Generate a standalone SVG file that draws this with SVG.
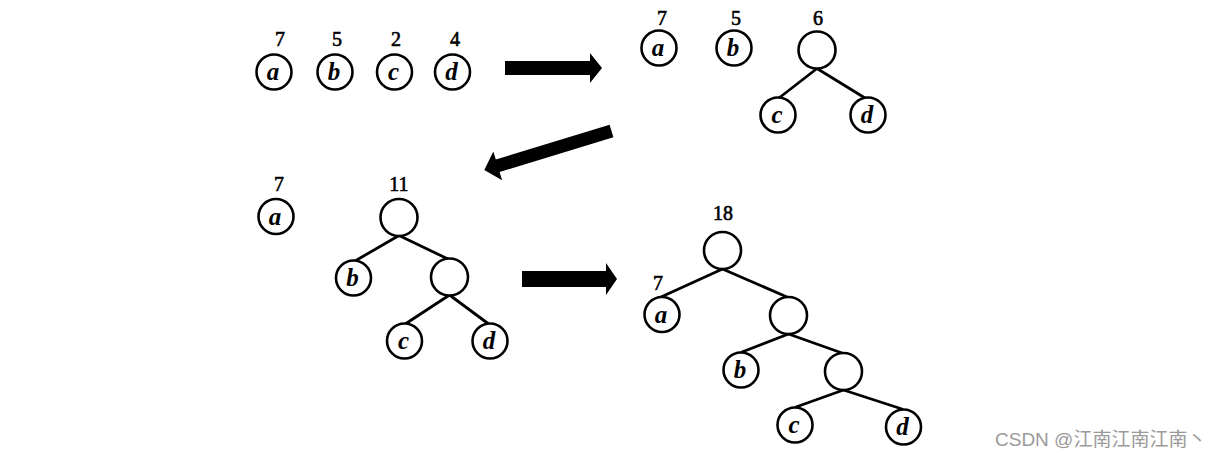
<svg xmlns="http://www.w3.org/2000/svg" width="1215" height="457" viewBox="0 0 1215 457">
<style>
.n{fill:#fff;stroke:#000;stroke-width:2.6}
.e{stroke:#000;stroke-width:2.8;fill:none;stroke-linecap:round}
.lt{font-family:"Liberation Serif",serif;font-style:italic;font-weight:bold;font-size:25px;text-anchor:middle;fill:#000}
.w{font-family:"Liberation Serif",serif;font-size:20px;text-anchor:middle;fill:#000;stroke:#000;stroke-width:0.6}
.ar{fill:#000}
.wm{font-family:"Liberation Sans","Noto Sans CJK SC",sans-serif;font-size:19px;fill:#9a9a9a}
</style>
<rect width="1215" height="457" fill="#fff"/>
<g id="connectors">
<line class="e" x1="817" y1="68.5" x2="779" y2="98"/>
<line class="e" x1="817" y1="68.5" x2="865" y2="98"/>
<line class="e" x1="399" y1="235.5" x2="355" y2="261"/>
<line class="e" x1="399" y1="235.5" x2="448" y2="259"/>
<line class="e" x1="449.5" y1="295" x2="406" y2="323.5"/>
<line class="e" x1="449.5" y1="295" x2="488" y2="323.5"/>
<line class="e" x1="722.5" y1="269" x2="661" y2="297"/>
<line class="e" x1="722.5" y1="269" x2="787" y2="297"/>
<line class="e" x1="788.5" y1="334" x2="742" y2="352"/>
<line class="e" x1="788.5" y1="334" x2="842" y2="353"/>
<line class="e" x1="843.5" y1="390" x2="796" y2="407"/>
<line class="e" x1="843.5" y1="390" x2="902" y2="409"/>
<polygon id="arrow1" class="ar" points="505,61 590,61 590,53 602,68 590,83 590,75 505,75"/>
<polygon id="arrow2" class="ar" points="0,-6.5 119,-6.5 119,-15 133,0 119,15 119,6.5 0,6.5" transform="translate(611.5,131) rotate(163)"/>
<polygon id="arrow3" class="ar" points="522,271 606,271 606,263 617,279 606,295 606,287 522,287"/>
</g>
<g id="p1a"><text class="w" x="280" y="46">7</text><circle class="n" cx="274" cy="72" r="17.5"/><text class="lt" x="273" y="80">a</text></g>
<g id="p1b"><text class="w" x="337" y="46">5</text><circle class="n" cx="335" cy="72" r="17.5"/><text class="lt" x="334" y="80">b</text></g>
<g id="p1c"><text class="w" x="396" y="46">2</text><circle class="n" cx="394.5" cy="72" r="17.5"/><text class="lt" x="393.5" y="80">c</text></g>
<g id="p1d"><text class="w" x="455" y="46">4</text><circle class="n" cx="452.5" cy="72" r="17.5"/><text class="lt" x="451.5" y="80">d</text></g>
<g id="p2a"><text class="w" x="662" y="25">7</text><circle class="n" cx="659" cy="48" r="17.5"/><text class="lt" x="658" y="56">a</text></g>
<g id="p2b"><text class="w" x="736" y="25">5</text><circle class="n" cx="734" cy="48" r="17.5"/><text class="lt" x="733" y="56">b</text></g>
<g id="p2r"><text class="w" x="818" y="25">6</text><circle class="n" cx="817" cy="50" r="18.5"/></g>
<g id="p2c"><circle class="n" cx="778" cy="115" r="17.5"/><text class="lt" x="777" y="123">c</text></g>
<g id="p2d"><circle class="n" cx="868" cy="115" r="17.5"/><text class="lt" x="867" y="123">d</text></g>
<g id="p3a"><text class="w" x="279" y="191">7</text><circle class="n" cx="276" cy="216.5" r="17.5"/><text class="lt" x="275" y="224.5">a</text></g>
<g id="p3r"><text class="w" x="399" y="191">11</text><circle class="n" cx="399" cy="217.5" r="18.5"/></g>
<g id="p3b"><circle class="n" cx="353.5" cy="278" r="17.5"/><text class="lt" x="352.5" y="286">b</text></g>
<g id="p3i"><circle class="n" cx="449.5" cy="277" r="18.5"/></g>
<g id="p3c"><circle class="n" cx="404.5" cy="341" r="17.5"/><text class="lt" x="403.5" y="349">c</text></g>
<g id="p3d"><circle class="n" cx="490" cy="341" r="17.5"/><text class="lt" x="489" y="349">d</text></g>
<g id="p4r"><text class="w" x="723" y="220">18</text><circle class="n" cx="722.5" cy="250.5" r="18.5"/></g>
<g id="p4a"><text class="w" x="658" y="290">7</text><circle class="n" cx="662" cy="314.5" r="17.5"/><text class="lt" x="661" y="322.5">a</text></g>
<g id="p4i1"><circle class="n" cx="788.5" cy="315.5" r="18.5"/></g>
<g id="p4b"><circle class="n" cx="741" cy="370" r="17.5"/><text class="lt" x="740" y="378">b</text></g>
<g id="p4i2"><circle class="n" cx="843.5" cy="371.5" r="18.5"/></g>
<g id="p4c"><circle class="n" cx="795" cy="425" r="17.5"/><text class="lt" x="794" y="433">c</text></g>
<g id="p4d"><circle class="n" cx="903.5" cy="427" r="17.5"/><text class="lt" x="902.5" y="435">d</text></g>
<text class="wm" x="995" y="446">CSDN @江南江南江南丶</text>
</svg>
